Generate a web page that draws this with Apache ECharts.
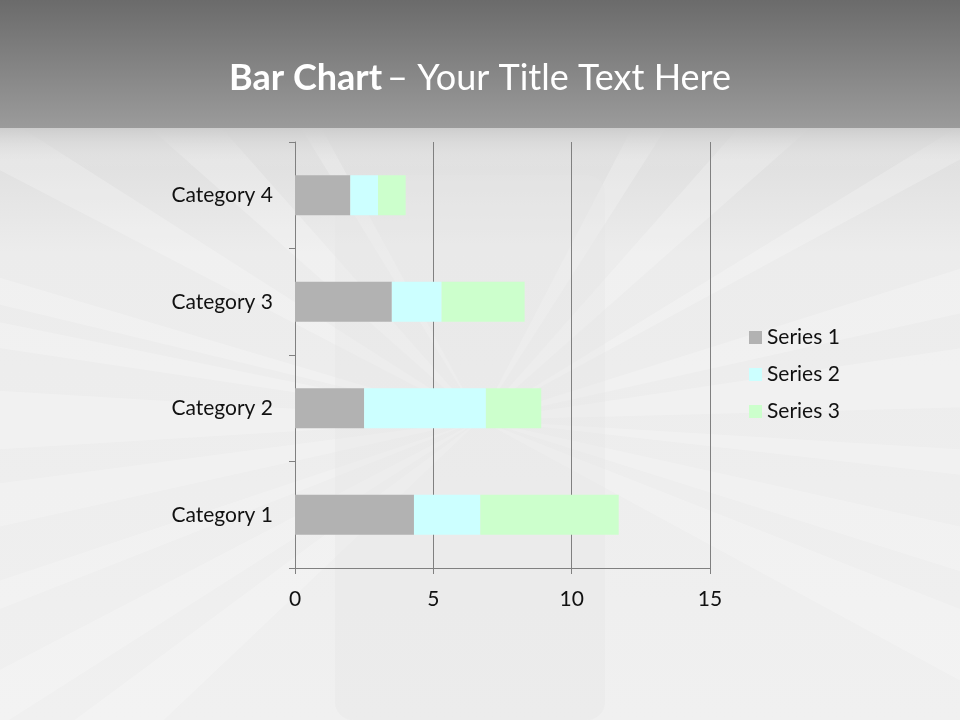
<!DOCTYPE html>
<html>
<head>
<meta charset="utf-8">
<script src="https://cdn.jsdelivr.net/npm/echarts@6/dist/echarts.min.js"></script>
<style>html,body{margin:0;padding:0;background:#eee}#c{width:960px;height:720px}</style>
</head>
<body>
<div id="c"></div>
<script>
const categories = ['Category 1', 'Category 2', 'Category 3', 'Category 4'];
const series1 = [4.3, 2.5, 3.5, 2.0];
const series2 = [2.4, 4.4, 1.8, 1.0];
const series3 = [5.0, 2.0, 3.0, 1.0];
const seriesNames = ['Series 1', 'Series 2', 'Series 3'];
const xTicks = [0, 5, 10, 15];

const FONT = 'Lato, "Open Sans", sans-serif';
const chart = echarts.init(document.getElementById('c'), null, {renderer: 'canvas'});

// decorative background
const bg = [];
bg.push({type:'rect', z:-10, shape:{x:0,y:0,width:960,height:720},
  style:{fill:{type:'linear',x:0,y:0,x2:0,y2:1,colorStops:[
    {offset:0,color:'#6c6c6c'},{offset:0.17,color:'#999'},{offset:0.18,color:'#dcdcdc'},
    {offset:0.35,color:'#ececec'},{offset:1,color:'#f0f0f0'}]}}});
const cx = 480, cy = 420;
const angles = [-170,-150,-135,-120,-60,-45,-30,-15,-5,5,15,25,160,170,180,195,150,140];
angles.forEach((a,i)=>{
  const r = 900, w = 3 + (i%3)*2;
  const a1 = (a-w/2)*Math.PI/180, a2=(a+w/2)*Math.PI/180;
  bg.push({type:'polygon', z:-9, shape:{points:[[cx,cy],[cx+r*Math.cos(a1),cy+r*Math.sin(a1)],[cx+r*Math.cos(a2),cy+r*Math.sin(a2)]]},
    style:{fill:'rgba(255,255,255,0.22)'}});
});
bg.push({type:'rect', z:-8, shape:{x:0,y:0,width:960,height:128},
  style:{fill:{type:'linear',x:0,y:0,x2:0,y2:1,colorStops:[{offset:0,color:'#6b6b6b'},{offset:1,color:'#9b9b9b'}]}}});
bg.push({type:'rect', z:-8, shape:{x:0,y:128,width:960,height:40},
  style:{fill:{type:'linear',x:0,y:0,x2:0,y2:1,colorStops:[{offset:0,color:'rgba(205,205,205,1)'},{offset:1,color:'rgba(236,236,236,0)'}]}}});
bg.push({type:'rect', z:-8, shape:{x:335,y:175,width:270,height:545,r:18},
  style:{fill:'rgba(228,228,228,0.35)'}});

const colors = ['#b2b2b2', '#ccffff', '#ccffcc'];
chart.setOption({
  animation: false,
  graphic: bg,
  title: {
    text: '{b|Bar Chart} {n|– Your Title Text Here}',
    left: 'center', top: 55,
    textStyle: {
      rich: {
        b: {fontFamily: FONT, fontSize: 36, fontWeight: 'bold', color: '#fff'},
        n: {fontFamily: FONT, fontSize: 36, fontWeight: 'normal', color: '#fff'}
      }
    }
  },
  legend: {
    orient: 'vertical', left: 744, top: 322,
    itemWidth: 13, itemHeight: 13, itemGap: 16,
    icon: 'rect',
    data: seriesNames,
    textStyle: {fontFamily: FONT, fontSize: 21, color: '#111'}
  },
  grid: {left: 295, right: 250, top: 142, bottom: 152, containLabel: false},
  xAxis: {
    type: 'value', min: xTicks[0], max: xTicks[xTicks.length-1], interval: 5,
    axisLine: {show: true, lineStyle: {color: '#808080'}},
    axisTick: {show: true, length: 6, lineStyle: {color: '#808080'}},
    splitLine: {show: true, lineStyle: {color: '#808080', width: 1}},
    axisLabel: {fontFamily: FONT, fontSize: 21, color: '#111', margin: 21}
  },
  yAxis: {
    type: 'category', data: categories,
    axisLine: {show: true, lineStyle: {color: '#808080'}},
    axisTick: {show: true, length: 6, inside: false, lineStyle: {color: '#808080'}},
    axisLabel: {fontFamily: FONT, fontSize: 21, color: '#111', margin: 22}
  },
  series: [series1, series2, series3].map((d, i) => ({
    name: seriesNames[i], type: 'bar', stack: 'total', data: d,
    barWidth: 40, itemStyle: {color: colors[i]}
  }))
});
</script>
</body>
</html>
